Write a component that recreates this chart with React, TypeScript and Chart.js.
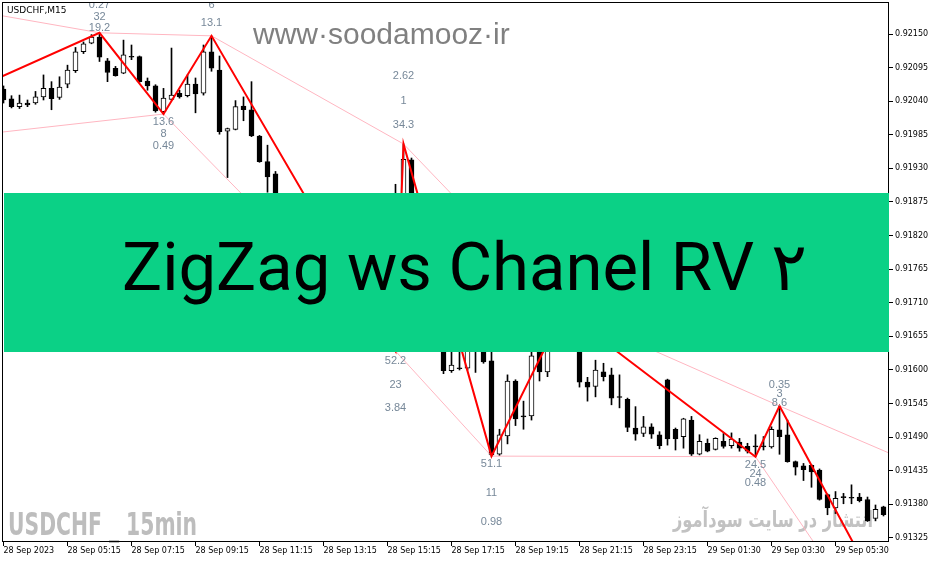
import { useEffect, useRef } from "react";
import { Chart, registerables } from "chart.js";

Chart.register(...registerables);

// ---- data ----
const timeTickIndex = [0, 8, 16, 24, 32, 40, 48, 56, 64, 72, 80, 88, 96, 104];
const timeLabels = [
  "28 Sep 2023", "28 Sep 05:15", "28 Sep 07:15", "28 Sep 09:15", "28 Sep 11:15",
  "28 Sep 13:15", "28 Sep 15:15", "28 Sep 17:15", "28 Sep 19:15", "28 Sep 21:15",
  "28 Sep 23:15", "29 Sep 01:30", "29 Sep 03:30", "29 Sep 05:30",
];
const priceTicks = [
  0.91325, 0.9138, 0.91435, 0.9149, 0.91545, 0.916, 0.91655, 0.9171,
  0.91765, 0.9182, 0.91875, 0.9193, 0.91985, 0.9204, 0.92095, 0.9215,
];

const opens = [
  0.9206, 0.92044, 0.92031, 0.92037, 0.92037, 0.92047, 0.92061, 0.92046, 0.92068, 0.9209,
  0.92121, 0.92135, 0.92145, 0.92106, 0.92094, 0.92086, 0.92113, 0.92113, 0.92073, 0.92065,
  0.92023, 0.92043, 0.92053, 0.92049, 0.92068, 0.92053, 0.92121, 0.92091, 0.91991, 0.91994,
  0.92032, 0.92026, 0.91983, 0.91941, 0.91921, 0.91854, 0.91813, 0.91837, 0.9178, 0.91788,
  0.91747, 0.91731, 0.91764, 0.91715, 0.91698, 0.91723, 0.91682, 0.91706, 0.91665, 0.91645,
  0.91878, 0.91944, 0.91796, 0.91731, 0.91764, 0.91682, 0.91599, 0.91603, 0.91603, 0.91657,
  0.91641, 0.91615, 0.91462, 0.91492, 0.91582, 0.91525, 0.91525, 0.9163, 0.91597, 0.91657,
  0.91685, 0.91676, 0.91652, 0.9158, 0.91573, 0.91597, 0.91592, 0.91556, 0.91552, 0.91505,
  0.91496, 0.91507, 0.91494, 0.91584, 0.91503, 0.91491, 0.91518, 0.91462, 0.9148, 0.9147,
  0.91483, 0.91476, 0.91482, 0.91475, 0.91475, 0.91475, 0.91474, 0.91502, 0.91494, 0.9145,
  0.91443, 0.91444, 0.91436, 0.91396, 0.91374, 0.91392, 0.91391, 0.91392, 0.91388, 0.91357,
  0.91376,
];
const highs = [
  0.92065, 0.92049, 0.9205, 0.92042, 0.92056, 0.92083, 0.92072, 0.9208, 0.92099, 0.92128,
  0.92137, 0.92149, 0.92152, 0.9211, 0.92097, 0.9214, 0.92132, 0.92114, 0.92078, 0.92067,
  0.92061, 0.92127, 0.92058, 0.92083, 0.92078, 0.92132, 0.92147, 0.92114, 0.91996, 0.92041,
  0.92047, 0.92072, 0.91984, 0.91968, 0.91925, 0.9187, 0.91846, 0.91842, 0.91805, 0.91796,
  0.91755, 0.91777, 0.91767, 0.91723, 0.91731, 0.91728, 0.91715, 0.91715, 0.91685, 0.91904,
  0.9197, 0.91947, 0.91813, 0.91777, 0.91772, 0.9169, 0.91649, 0.91649, 0.91665, 0.91674,
  0.91657, 0.9163, 0.91503, 0.91592, 0.91584, 0.91549, 0.9163, 0.91649, 0.91674, 0.91695,
  0.91697, 0.9169, 0.91665, 0.91588, 0.91616, 0.91611, 0.91603, 0.91592, 0.91554, 0.9154,
  0.91524, 0.91512, 0.91499, 0.91585, 0.91505, 0.91521, 0.91524, 0.91494, 0.91487, 0.91489,
  0.91496, 0.91497, 0.91488, 0.9148, 0.91494, 0.91491, 0.91507, 0.91541, 0.91518, 0.91451,
  0.91447, 0.91445, 0.91438, 0.91397, 0.91401, 0.91398, 0.91412, 0.91398, 0.91392, 0.91379,
  0.91377,
];
const lows = [
  0.92037, 0.92029, 0.92028, 0.92031, 0.92035, 0.92042, 0.92026, 0.92043, 0.92062, 0.92087,
  0.92118, 0.92134, 0.92105, 0.92072, 0.92081, 0.92085, 0.92108, 0.92071, 0.92058, 0.92022,
  0.92019, 0.92042, 0.92045, 0.92047, 0.92021, 0.9205, 0.92089, 0.91986, 0.91915, 0.91993,
  0.92008, 0.91982, 0.9194, 0.91891, 0.91842, 0.91805, 0.918, 0.91772, 0.91764, 0.91739,
  0.91715, 0.91723, 0.91706, 0.91685, 0.9169, 0.91674, 0.91669, 0.91657, 0.9164, 0.91631,
  0.91875, 0.9178, 0.91715, 0.91715, 0.91665, 0.91594, 0.91596, 0.916, 0.916, 0.91596,
  0.91611, 0.91459, 0.9146, 0.91479, 0.91509, 0.91503, 0.91518, 0.91582, 0.91589, 0.91649,
  0.91669, 0.91649, 0.91572, 0.91549, 0.91556, 0.91582, 0.91543, 0.91538, 0.91499, 0.91485,
  0.91491, 0.91488, 0.91471, 0.91477, 0.91469, 0.91472, 0.9146, 0.91461, 0.91466, 0.91469,
  0.91472, 0.91472, 0.91467, 0.91464, 0.91458, 0.91469, 0.91472, 0.91462, 0.91449, 0.91428,
  0.91419, 0.91408, 0.91387, 0.91363, 0.91365, 0.91381, 0.91381, 0.91384, 0.91352, 0.91353,
  0.91361,
];
const closes = [
  0.92042, 0.92031, 0.92037, 0.92034, 0.92047, 0.92061, 0.92044, 0.92063, 0.92091, 0.92121,
  0.92134, 0.92145, 0.92112, 0.92087, 0.92082, 0.92116, 0.92112, 0.92072, 0.92065, 0.92024,
  0.92045, 0.9205, 0.92047, 0.92068, 0.92052, 0.92121, 0.92094, 0.9199, 0.91995, 0.92031,
  0.92026, 0.91983, 0.91941, 0.91916, 0.91854, 0.91813, 0.91837, 0.9178, 0.91788, 0.91747,
  0.91731, 0.91764, 0.91715, 0.91698, 0.91723, 0.91682, 0.91706, 0.91665, 0.91645, 0.91885,
  0.91945, 0.91796, 0.91731, 0.91764, 0.91682, 0.91599, 0.91608, 0.91602, 0.91657, 0.91641,
  0.91613, 0.91461, 0.91494, 0.91582, 0.9152, 0.91523, 0.91623, 0.91597, 0.91657, 0.91685,
  0.91676, 0.91657, 0.9158, 0.91572, 0.916, 0.91589, 0.91554, 0.91555, 0.91506, 0.91495,
  0.91507, 0.91495, 0.91476, 0.91487, 0.91487, 0.9152, 0.91462, 0.91483, 0.91467, 0.91488,
  0.91475, 0.91487, 0.91472, 0.91467, 0.91474, 0.91474, 0.91503, 0.91491, 0.9145, 0.91441,
  0.91437, 0.91433, 0.91388, 0.91374, 0.9139, 0.91391, 0.9139, 0.91386, 0.91353, 0.91372,
  0.91363,
];

// ZigZag turning points (bar index, price)
const zigzagIndex = [-26, -21, 12, 20, 26, 49, 50, 61, 70, 94, 97, 110];
const zigzagPrice = [
  0.92239, 0.91959, 0.92152, 0.92019, 0.92147, 0.91631, 0.9197, 0.91459, 0.91697, 0.91458, 0.91541, 0.91225,
];
// channel lines through successive highs / lows
const upperIndex = [-26, 12, 26, 50, 70, 97, 110.7];
const upperPrice = [0.92239, 0.92152, 0.92147, 0.9197, 0.91697, 0.91541, 0.91464];
const lowerIndex = [-21, 20, 49, 61, 94, 110.7];
const lowerPrice = [0.91959, 0.92019, 0.91631, 0.91459, 0.91458, 0.91137];

// swing statistics labels (bar index, price, text)
const labelIndex = [12, 12, 12, 20, 20, 20, 26, 26, 49, 49, 49, 50, 50, 50, 61, 61, 61, 94, 94, 94, 97, 97, 97];
const labelPrice = [
  0.9216, 0.92178, 0.92198, 0.92006, 0.91986, 0.91967, 0.92168, 0.92198, 0.91615, 0.91576, 0.91538,
  0.92001, 0.9204, 0.92081, 0.91446, 0.91399, 0.91351, 0.91445, 0.9143, 0.91415, 0.91546, 0.91561, 0.91576,
];
const labelText = [
  "19.2", "32", "0.27", "13.6", "8", "0.49", "13.1", "6", "52.2", "23", "3.84",
  "34.3", "1", "2.62", "51.1", "11", "0.98", "24.5", "24", "0.48", "8.6", "3", "0.35",
];

const symbolTitle = "USDCHF,M15";
const siteText = "www·soodamooz·ir";
const bannerText = "ZigZag ws Chanel RV ۲";
const footerLeft = "USDCHF _ 15min";
const footerRight = "انتشار در سایت سودآموز";

function drawFitted(
  ctx: CanvasRenderingContext2D, text: string, font: string, color: string,
  x: number, y: number, width: number, align: CanvasTextAlign
) {
  ctx.save();
  ctx.font = font;
  ctx.fillStyle = color;
  ctx.textAlign = align;
  ctx.textBaseline = "alphabetic";
  const w = ctx.measureText(text).width || 1;
  ctx.translate(x, y);
  ctx.scale(width / w, 1);
  ctx.fillText(text, 0, 0);
  ctx.restore();
}

const overlayPlugin = {
  id: "overlay",
  beforeDatasetsDraw(chart: any) {
    const ctx: CanvasRenderingContext2D = chart.ctx;
    drawFitted(ctx, footerLeft, 'bold 32px "Liberation Sans Narrow", "DejaVu Sans Condensed", sans-serif', "#bdbdbd", 8, 535, 189, "left");
    drawFitted(ctx, footerRight, 'bold 22px "DejaVu Sans", sans-serif', "#c2c2c2", 873, 527, 200, "right");
  },
  afterDatasetsDraw(chart: any) {
    const ctx: CanvasRenderingContext2D = chart.ctx;
    const { left, top, right, bottom } = chart.chartArea;
    const xs = chart.scales.x;
    const ys = chart.scales.y;
    ctx.save();
    ctx.beginPath();
    ctx.rect(left, top, right - left, bottom - top);
    ctx.clip();
    ctx.font = '11px "Liberation Sans", sans-serif';
    ctx.fillStyle = "#778899";
    ctx.textAlign = "center";
    ctx.textBaseline = "middle";
    for (let k = 0; k < labelText.length; k++) {
      ctx.fillText(labelText[k], xs.getPixelForValue(labelIndex[k]), ys.getPixelForValue(labelPrice[k]));
    }
    ctx.font = '9px "DejaVu Sans", sans-serif';
    ctx.fillStyle = "#000";
    ctx.textAlign = "left";
    ctx.fillText(symbolTitle, left + 5, top + 9);
    ctx.font = '30px "Liberation Sans", sans-serif';
    ctx.fillStyle = "#808080";
    ctx.textBaseline = "alphabetic";
    ctx.fillText(siteText, 253, 44);
    ctx.restore();
    ctx.save();
    ctx.strokeStyle = "#000";
    ctx.lineWidth = 1;
    ctx.strokeRect(left + 0.5, top + 0.5, right - left - 1, bottom - top - 1);
    ctx.restore();
  },
  afterDraw(chart: any) {
    const ctx: CanvasRenderingContext2D = chart.ctx;
    const { left, right } = chart.chartArea;
    ctx.save();
    ctx.fillStyle = "#0bd186";
    ctx.fillRect(left + 2, 193, right - left - 2, 159);
    ctx.font = '67px Roboto, "Noto Sans", sans-serif';
    ctx.fillStyle = "#000";
    ctx.textAlign = "left";
    ctx.textBaseline = "alphabetic";
    ctx.fillText(bannerText, 122, 290);
    ctx.restore();
  },
};

export default function App() {
  const ref = useRef<HTMLCanvasElement | null>(null);
  useEffect(() => {
    if (!ref.current) return;
    const n = opens.length;
    const idx = Array.from({ length: n }, (_, i) => i);
    const bodyColors = idx.map((i) => (closes[i] > opens[i] ? "#ffffff" : "#000000"));
    const axisFont = { family: '"DejaVu Sans", sans-serif', size: 8 };
    const chart = new Chart(ref.current, {
      type: "bar",
      data: {
        datasets: [
          {
            type: "line",
            data: zigzagIndex.map((x, k) => ({ x, y: zigzagPrice[k] })),
            borderColor: "#ff0000",
            borderWidth: 2,
            pointRadius: 0,
            tension: 0,
            fill: false,
            order: 0,
          } as any,
          {
            type: "line",
            data: upperIndex.map((x, k) => ({ x, y: upperPrice[k] })),
            borderColor: "#ffb6c1",
            borderWidth: 1,
            pointRadius: 0,
            tension: 0,
            fill: false,
            order: 1,
          } as any,
          {
            type: "line",
            data: lowerIndex.map((x, k) => ({ x, y: lowerPrice[k] })),
            borderColor: "#ffb6c1",
            borderWidth: 1,
            pointRadius: 0,
            tension: 0,
            fill: false,
            order: 1,
          } as any,
          {
            type: "bar",
            data: idx.map((i) => ({ x: i, y: [opens[i], closes[i]] })),
            backgroundColor: bodyColors,
            borderColor: "#000000",
            borderWidth: 1,
            borderSkipped: false,
            barThickness: 5,
            minBarLength: 1,
            grouped: false,
            order: 2,
          } as any,
          {
            type: "bar",
            data: idx.map((i) => ({ x: i, y: [lows[i], highs[i]] })),
            backgroundColor: "#000000",
            borderWidth: 0,
            barThickness: 1,
            minBarLength: 1,
            grouped: false,
            order: 3,
          } as any,
        ],
      },
      options: {
        animation: false,
        responsive: false,
        devicePixelRatio: 1,
        events: [],
        layout: { padding: { left: 2, top: 2, right: 0, bottom: 0 } },
        plugins: { legend: { display: false }, tooltip: { enabled: false } },
        scales: {
          x: {
            type: "linear",
            min: -0.1875,
            max: 110.6875,
            offset: false,
            afterBuildTicks: (s: any) => {
              s.ticks = timeTickIndex.map((v) => ({ value: v }));
            },
            afterFit: (s: any) => {
              s.height = 21;
              s.paddingLeft = 0;
              s.paddingRight = 0;
            },
            ticks: {
              autoSkip: false,
              maxRotation: 0,
              minRotation: 0,
              align: "start",
              padding: 0,
              color: "#000",
              font: axisFont,
              callback: (_v: any, i: number) => timeLabels[i] ?? "",
            },
            grid: { offset: false, drawOnChartArea: false, drawTicks: true, tickLength: 4, color: "#000", lineWidth: 1 },
            border: { display: false },
          },
          y: {
            type: "linear",
            position: "right",
            min: 0.913184,
            max: 0.922024,
            beginAtZero: false,
            afterBuildTicks: (s: any) => {
              s.ticks = priceTicks.map((v) => ({ value: v }));
            },
            afterFit: (s: any) => {
              s.width = 46;
              s.paddingTop = 0;
              s.paddingBottom = 0;
            },
            ticks: {
              padding: 2,
              color: "#000",
              font: axisFont,
              callback: (v: any) => Number(v).toFixed(5),
            },
            grid: { drawOnChartArea: false, drawTicks: true, tickLength: 4, color: "#000", lineWidth: 1 },
            border: { display: false },
          },
        },
      } as any,
      plugins: [overlayPlugin],
    });
    return () => chart.destroy();
  }, []);
  return (
    <div style={{ position: "fixed", left: 0, top: 0, width: 935, height: 563, background: "#fff" }}>
      <canvas ref={ref} width={935} height={563} style={{ display: "block" }} />
    </div>
  );
}
